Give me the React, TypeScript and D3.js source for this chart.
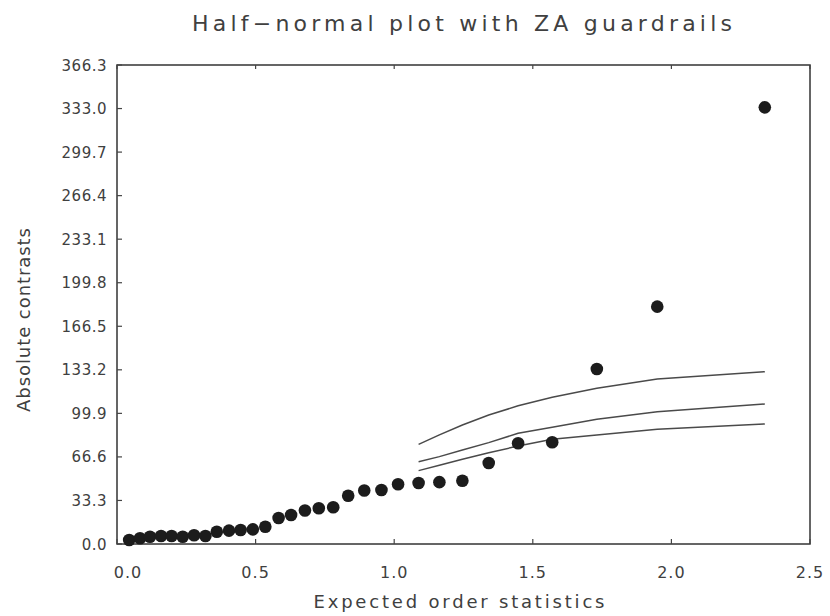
import React from "react";
import * as d3 from "d3";

const expected = [
  0.044, 0.083, 0.119, 0.159, 0.197, 0.237, 0.278, 0.319, 0.36, 0.404,
  0.446, 0.49, 0.535, 0.583, 0.628, 0.678, 0.728, 0.78, 0.834, 0.892,
  0.954, 1.014, 1.088, 1.163, 1.246, 1.341, 1.447, 1.57, 1.731, 1.949, 2.337,
];
const contrasts = [
  3.1, 4.4, 5.6, 6.1, 6.1, 5.6, 6.7, 6.1, 9.4, 10.2,
  10.7, 11.2, 13.2, 19.9, 22.2, 25.6, 27.3, 28.1, 36.9, 40.9,
  41.3, 45.7, 46.6, 47.3, 48.4, 61.9, 77.0, 77.8, 133.8, 181.5, 333.9,
];
const guardX = [1.088, 1.163, 1.246, 1.341, 1.447, 1.57, 1.731, 1.949, 2.337];
const guardUpper = [76.2, 83.4, 91.0, 98.6, 105.7, 112.2, 119.1, 126.2, 131.8];
const guardMiddle = [62.9, 66.8, 71.9, 77.5, 84.7, 89.2, 95.4, 101.2, 107.1];
const guardLower = [56.1, 60.2, 64.8, 69.8, 74.9, 80.1, 83.4, 87.7, 91.8];

const xTicks = [0, 0.5, 1.0, 1.5, 2.0, 2.5];
const yTicks = [0, 33.3, 66.6, 99.9, 133.2, 166.5, 199.8, 233.1, 266.4, 299.7, 333.0, 366.3];

const W = 830;
const H = 616;
const left = 117, right = 810, top = 65, bottom = 544;

export default function App() {
  const x = d3.scaleLinear().domain([0, 2.5]).range([left, right]);
  const y = d3.scaleLinear().domain([0, 366.3]).range([bottom, top]);
  const line = d3
    .line<[number, number]>()
    .x((d) => x(d[0]))
    .y((d) => y(d[1]));
  const guards = [guardUpper, guardMiddle, guardLower];
  const font = "'DejaVu Sans', sans-serif";
  const textColor = "#404040";
  return (
    <svg
      width={W}
      height={H}
      style={{ position: "absolute", left: 0, top: 0, background: "#fff" }}
    >
      <rect x={0} y={0} width={W} height={H} fill="#fff" />
      {/* title */}
      <text
        x={462}
        y={31}
        textAnchor="middle"
        fontFamily={font}
        fontSize={22}
        fill={textColor}
        textLength={540}
        lengthAdjust="spacing"
      >
        Half−normal plot with ZA guardrails
      </text>
      {/* frame */}
      <rect
        x={left}
        y={top}
        width={right - left}
        height={bottom - top}
        fill="none"
        stroke="#333"
        strokeWidth={1.5}
      />
      {/* y ticks */}
      {yTicks.map((t, i) => (
        <g key={"y" + i}>
          <line x1={left} x2={left + 5} y1={y(t)} y2={y(t)} stroke="#444" strokeWidth={1.2} />
          <text
            x={107}
            y={y(t) + 5.5}
            textAnchor="end"
            fontFamily={font}
            fontSize={15}
            fill={textColor}
            letterSpacing={0.5}
          >
            {t.toFixed(1)}
          </text>
        </g>
      ))}
      {/* x ticks */}
      {xTicks.map((t, i) => (
        <g key={"x" + i}>
          <line x1={x(t)} x2={x(t)} y1={bottom} y2={bottom - 5} stroke="#444" strokeWidth={1.2} />
          <line x1={x(t)} x2={x(t)} y1={top} y2={top + 4} stroke="#444" strokeWidth={1.2} />
          <text
            x={i === 0 ? x(t) + 11 : x(t)}
            y={578}
            textAnchor="middle"
            fontFamily={font}
            fontSize={16}
            fill={textColor}
            letterSpacing={1}
          >
            {t.toFixed(1)}
          </text>
        </g>
      ))}
      {/* axis titles */}
      <text
        x={459}
        y={608}
        textAnchor="middle"
        fontFamily={font}
        fontSize={18}
        fill={textColor}
        textLength={291}
        lengthAdjust="spacing"
      >
        Expected order statistics
      </text>
      <text
        transform={`translate(30,320) rotate(-90)`}
        textAnchor="middle"
        fontFamily={font}
        fontSize={18}
        fill={textColor}
        textLength={184}
        lengthAdjust="spacing"
      >
        Absolute contrasts
      </text>
      {/* guardrails */}
      {guards.map((g, k) => (
        <path
          key={"g" + k}
          d={line(guardX.map((gx, i) => [gx, g[i]] as [number, number])) || ""}
          fill="none"
          stroke="#4a4a4a"
          strokeWidth={1.5}
        />
      ))}
      {/* points */}
      {expected.map((ex, i) => (
        <circle key={"p" + i} cx={x(ex)} cy={y(contrasts[i])} r={6.3} fill="#1c1c1c" />
      ))}
    </svg>
  );
}
